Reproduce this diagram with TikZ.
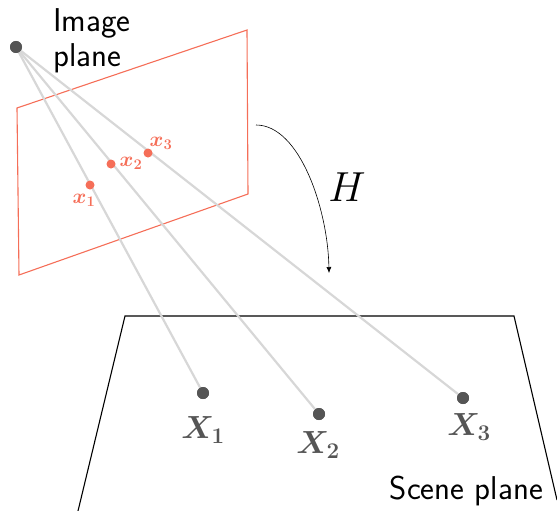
\RequirePackage{fix-cm}
\documentclass[tikz,border=0pt]{standalone}
\usepackage{amsmath,bm}
\usetikzlibrary{arrows.meta}
\definecolor{imgred}{RGB}{245,110,88}
\definecolor{dotgray}{RGB}{85,85,85}
\definecolor{raygray}{RGB}{215,215,215}
\tikzset{
  ray/.style={draw=raygray,line width=2.2pt},
  bigdot/.style={circle,fill=dotgray,inner sep=0pt,minimum size=12pt},
  reddot/.style={circle,fill=imgred,inner sep=0pt,minimum size=9pt},
  redlab/.style={text=imgred,font=\fontsize{21}{23}\selectfont,inner sep=0pt},
  biglab/.style={text=dotgray,font=\fontsize{32}{34}\selectfont,inner sep=0pt},
  sflab/.style={font=\sffamily\fontsize{33}{35}\selectfont,inner sep=0pt,align=left},
}
\begin{document}
\begin{tikzpicture}[x=1pt,y=-1pt]
\useasboundingbox (0,0) rectangle (557,511);
% image plane
\draw[imgred,line width=1.1pt] (17,108) -- (247,30) -- (248,194) -- (19,275) -- cycle;
% scene plane
\draw[black,line width=1.1pt] (78,511) -- (125,316) -- (514,316) -- (557,500);
% points
\node[bigdot] (C) at (16,47) {};
\node[bigdot] (X1) at (203,393) {};
\node[bigdot] (X2) at (319,414) {};
\node[bigdot] (X3) at (463,398) {};
\draw[ray] (C) -- (X1);
\draw[ray] (C) -- (X2);
\draw[ray] (C) -- (X3);
\node[bigdot] at (C) {};
\node[bigdot] at (X1) {};
\node[bigdot] at (X2) {};
\node[bigdot] at (X3) {};
\node[reddot] (x1) at (90,185) {};
\node[reddot] (x2) at (111,164) {};
\node[reddot] (x3) at (148,153) {};
\node[redlab] at (84,200) {$\bm{x_1}$};
\node[redlab] at (131,163) {$\bm{x_2}$};
\node[redlab] at (161,143) {$\bm{x_3}$};
\node[biglab] at (203,430) {$\bm{X_1}$};
\node[biglab] at (318,445) {$\bm{X_2}$};
\node[biglab] at (469,427) {$\bm{X_3}$};
% labels
\node[sflab,anchor=north west] (ip) at (53,8) {Image\\plane};
\node[sflab,anchor=base east] (sp) at (543,499) {Scene plane};
% H arrow
\coordinate (hs) at (256,125);
\coordinate (he) at (329,273);
\draw[line width=0.6pt,-{Latex[length=6pt,width=5pt]}] (hs) .. controls (300,125) and (328,210) .. (he);
\node[font=\fontsize{42}{42}\selectfont,inner sep=0pt] (H) at (347,187) {$H$};
\end{tikzpicture}
\end{document}
